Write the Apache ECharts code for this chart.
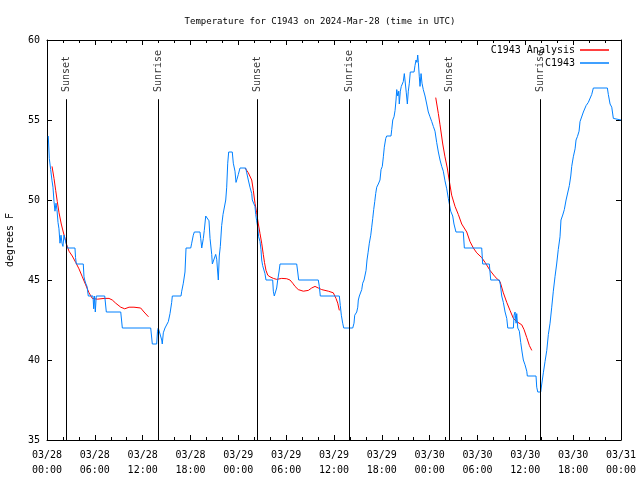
<!DOCTYPE html>
<html>
<head>
<meta charset="utf-8">
<script src="https://cdn.jsdelivr.net/npm/echarts@6/dist/echarts.min.js"></script>
<style>html,body{margin:0;padding:0;background:#fff;}#c{width:640px;height:480px;}</style>
</head>
<body>
<div id="c"></div>
<script>
// Hours since 2024-03-28 00:00 UTC
var obsHours = [0.16,0.29,0.46,0.63,0.75,0.88,1.0,1.13,1.25,1.38,1.5,1.63,1.76,1.88,2.0,2.13,2.38,2.55,3.51,3.58,3.68,4.55,4.64,4.73,4.85,5.02,5.18,5.77,5.86,5.96,6.06,6.18,7.24,7.44,9.25,9.45,13.01,13.21,13.76,13.86,13.96,14.18,14.39,14.46,14.59,14.8,15.02,15.22,15.43,15.64,15.72,16.81,16.9,17.1,17.31,17.44,18.03,18.15,18.35,18.48,19.19,19.28,19.41,19.61,19.73,19.91,20.07,20.32,20.45,20.66,20.74,20.99,21.16,21.29,21.41,21.49,21.61,21.74,21.91,22.08,22.33,22.42,22.54,22.67,22.79,23.24,23.37,23.58,23.71,23.83,24.0,24.21,24.93,25.05,25.25,25.46,25.68,25.75,26.0,26.09,26.18,26.3,26.43,26.55,26.72,26.84,26.93,27.05,27.22,27.34,27.47,28.31,28.39,28.51,28.72,28.81,28.94,29.1,29.23,31.32,31.45,31.57,34.03,34.16,34.28,36.67,36.79,36.92,37.09,37.22,38.35,38.51,38.6,38.64,38.85,38.98,39.05,39.18,39.35,39.48,39.6,39.77,39.93,40.02,40.14,40.27,40.43,40.61,40.73,40.86,40.98,41.11,41.23,41.36,41.56,41.77,41.9,42.06,42.19,42.31,42.49,42.61,43.15,43.24,43.37,43.53,43.66,43.78,43.87,44.0,44.12,44.19,44.32,44.44,44.57,44.69,44.82,44.95,45.07,45.2,45.32,45.45,45.57,46.04,46.16,46.29,46.41,46.5,46.58,46.7,46.79,46.92,47.04,47.2,47.42,47.63,47.83,48.04,48.26,48.46,48.67,48.88,49.09,49.3,49.51,49.71,49.92,50.14,50.34,50.64,50.89,51.05,51.3,52.22,52.35,54.53,54.65,55.48,55.66,56.74,56.87,57.04,57.24,57.46,57.67,57.8,58.5,58.59,58.71,58.84,58.92,59.05,59.25,59.42,59.59,59.75,59.96,60.18,60.25,61.34,61.43,61.56,61.93,62.06,62.26,62.47,62.69,62.89,63.1,63.31,63.51,63.72,63.93,64.13,64.35,64.47,64.69,64.89,65.11,65.32,65.52,65.7,65.82,66.02,66.24,66.36,66.53,66.74,66.86,67.08,67.28,67.62,67.9,68.33,68.53,70.29,70.41,70.63,70.84,71.04,71.12,72.0];
var obsTempF = [54.0,52.6,51.9,51.2,50.8,49.9,49.3,49.8,49.4,48.6,48.2,47.3,47.8,47.3,47.1,47.8,47.7,47.0,47.0,46.4,46.0,46.0,45.2,45.0,44.8,44.6,44.0,44.0,43.2,44.0,43.0,44.0,44.0,43.0,43.0,42.0,42.0,41.0,41.0,41.8,42.0,42.0,41.25,41.0,41.7,42.0,42.1,42.4,42.9,43.6,44.0,44.0,44.3,44.8,45.5,47.0,47.0,47.3,47.8,48.0,48.0,47.6,47.0,47.6,48.1,49.0,49.0,48.7,47.6,46.6,46.0,46.0,46.6,46.3,45.5,45.0,46.5,47.1,48.4,49.1,49.1,50.0,50.8,52.3,53.0,53.0,52.3,51.8,51.1,51.3,51.6,52.0,52.0,51.7,51.25,50.8,50.4,50.0,50.0,49.6,49.1,48.7,48.3,47.7,47.4,46.9,46.25,45.9,45.8,45.4,45.0,45.0,44.3,44.0,44.0,44.5,45.0,45.5,46.0,46.0,45.5,45.0,45.0,44.6,44.0,44.0,43.4,42.8,42.3,42.0,42.0,42.3,42.8,42.9,43.0,43.3,43.75,44.0,44.0,44.4,44.8,45.0,45.0,45.6,46.25,46.7,47.3,47.8,48.3,48.85,49.4,49.9,50.4,50.8,51.0,51.25,51.9,52.1,52.7,53.3,53.85,54.0,54.0,54.4,55.0,55.2,55.6,56.25,56.9,56.5,56.8,56.0,56.8,57.1,57.1,57.4,57.9,58.0,56.7,56.0,56.8,57.3,58.0,58.0,58.4,58.75,58.6,59.06,58.6,57.7,57.1,57.9,57.3,56.9,56.5,56.0,55.5,55.2,54.9,54.6,54.3,53.6,53.0,52.5,52.1,51.8,51.2,50.7,50.1,49.3,49.0,48.5,48.0,48.0,47.0,47.0,46.0,46.0,45.0,45.0,44.7,44.0,43.6,43.0,42.6,42.0,42.0,42.8,43.0,42.3,42.9,42.0,41.8,41.1,40.5,40.0,39.7,39.3,39.0,39.0,38.3,38.0,38.0,38.5,39.2,39.9,40.6,41.6,42.3,43.3,44.3,45.2,46.0,46.9,47.7,48.75,49.06,49.4,50.0,50.1,50.9,51.5,52.1,52.7,53.2,53.75,53.96,54.3,54.9,55.0,55.5,55.9,56.1,56.6,57.0,57.0,56.6,56.0,55.8,55.1,55.0,55.0];

var anaHoursA = [0.63,0.88,1.09,1.29,1.51,1.79,2.04,2.26,2.47,2.76,3.17,3.6,4.01,4.43,4.85,5.27,5.68,6.31,7.15,7.78,8.19,8.62,9.25,9.75,10.29,10.91,11.75,12.17,12.73];
var anaTempA  = [52.1,51.35,50.6,49.9,49.2,48.5,48.0,47.6,47.2,46.8,46.5,46.1,45.7,45.2,44.7,44.2,43.85,43.8,43.85,43.85,43.75,43.55,43.3,43.2,43.3,43.3,43.25,43.0,42.7];
var anaHoursB = [24.84,25.25,25.68,25.88,26.09,26.3,26.51,26.72,26.93,27.13,27.28,27.47,27.69,27.97,28.39,28.81,29.44,30.07,30.48,30.82,31.11,31.52,32.15,32.78,33.2,33.62,34.03,34.46,35.29,35.91,36.25,36.47,36.67];
var anaTempB  = [52.0,51.7,51.25,50.6,49.8,49.2,48.5,47.9,47.3,46.6,46.1,45.6,45.3,45.2,45.1,45.04,45.1,45.08,45.0,44.8,44.6,44.4,44.3,44.35,44.5,44.6,44.5,44.4,44.3,44.2,43.85,43.55,43.1];
var anaHoursC = [48.76,49.09,49.3,49.64,49.92,50.21,50.46,50.76,51.18,51.59,52.02,52.65,53.06,53.48,53.9,54.53,54.95,55.57,56.2,56.83,57.24,57.67,58.08,58.5,58.92,59.55,59.84,60.18,60.51,60.81];
var anaTempC  = [56.4,55.4,54.7,53.5,52.7,52.0,51.2,50.3,49.6,49.1,48.5,48.0,47.4,47.0,46.7,46.4,46.1,45.6,45.2,44.9,44.2,43.6,43.1,42.6,42.4,42.2,41.9,41.4,40.9,40.6];

var eventHours = [2.42,13.96,26.38,37.92,50.43,61.88];
var eventNames = ["Sunset","Sunrise","Sunset","Sunrise","Sunset","Sunrise"];
var eventLineTop = 56.3;
var eventLabelBase = 56.75;

var yTicks = [35,40,45,50,55,60];

function zip(a,b){var r=[];for(var i=0;i<a.length;i++)r.push([a[i],b[i]]);return r;}
function pad(n){return (n<10?'0':'')+n;}

var FONT = 'DejaVu Sans Mono';
var chart = echarts.init(document.getElementById('c'), null, {renderer:'canvas'});

var axisCommon = {
  axisLine:{show:true,onZero:false,lineStyle:{color:'#000',width:1}},
  splitLine:{show:false}
};

var eventLines = eventHours.map(function(h){return [{coord:[h,eventLineTop]},{coord:[h,35]}];});
var eventLabels = eventHours.map(function(h,i){return {value:[h,eventLabelBase], name:eventNames[i]};});

var option = {
  animation:false,
  backgroundColor:'#fff',
  title:{
    text:'Temperature for C1943 on 2024-Mar-28 (time in UTC)',
    left:'center', top:12,
    textStyle:{fontFamily:FONT,fontSize:9,fontWeight:'normal',color:'#000'}
  },
  legend:{
    data:['C1943 Analysis','C1943'],
    orient:'vertical', right:26, top:39, align:'right',
    icon:'rect', itemWidth:29, itemHeight:1.5, itemGap:1,
    textStyle:{fontFamily:FONT,fontSize:10,color:'#000',lineHeight:12}
  },
  grid:{left:47,right:19,top:40,bottom:40,containLabel:false,outerBoundsMode:'none'},
  xAxis:[
    Object.assign({}, axisCommon, {
      type:'value', position:'bottom', min:0, max:72, interval:6,
      axisTick:{show:true,inside:true,length:5,lineStyle:{color:'#000'}},
      minorTick:{show:true,splitNumber:3,length:3,lineStyle:{color:'#000'}},
      axisLabel:{margin:8,fontFamily:FONT,fontSize:10,color:'#000',lineHeight:15,
        formatter:function(v){var d=28+Math.floor(v/24);var hh=v%24;return '03/'+pad(d)+'\n'+pad(hh)+':00';}}
    }),
    Object.assign({}, axisCommon, {
      type:'value', position:'top', min:0, max:72, interval:6,
      axisTick:{show:true,inside:true,length:5,lineStyle:{color:'#000'}},
      minorTick:{show:true,splitNumber:3,length:3,lineStyle:{color:'#000'}},
      axisLabel:{show:false}
    })
  ],
  yAxis:[
    Object.assign({}, axisCommon, {
      type:'value', position:'left', min:yTicks[0], max:yTicks[yTicks.length-1], interval:5,
      name:'degrees F', nameLocation:'middle', nameGap:32, nameRotate:90,
      nameTextStyle:{fontFamily:FONT,fontSize:10,color:'#000'},
      axisTick:{show:true,inside:true,length:5,lineStyle:{color:'#000'}},
      axisLabel:{margin:7,fontFamily:FONT,fontSize:10,color:'#000'}
    }),
    Object.assign({}, axisCommon, {
      type:'value', position:'right', min:yTicks[0], max:yTicks[yTicks.length-1], interval:5,
      axisTick:{show:true,inside:true,length:5,lineStyle:{color:'#000'}},
      axisLabel:{show:false}
    })
  ],
  series:[
    {
      name:'events', type:'scatter', symbol:'circle', symbolSize:1, silent:true,
      itemStyle:{color:'rgba(0,0,0,0)'},
      data:eventLabels,
      label:{show:true, position:'inside', rotate:90, align:'left', verticalAlign:'middle',
        offset:[1,0],
        formatter:function(p){return p.name;},
        fontFamily:FONT,fontSize:10,color:'#000'},
      labelLayout:{hideOverlap:false},
      markLine:{silent:true, symbol:['none','none'], animation:false,
        lineStyle:{color:'#000',width:1,type:'solid'},
        label:{show:false}, emphasis:{disabled:true},
        data:eventLines},
      z:1
    },
    {name:'C1943 Analysis', type:'line', data:zip(anaHoursA,anaTempA), showSymbol:false, symbol:'none',
      lineStyle:{color:'#ff0000',width:1}, itemStyle:{color:'#ff0000'}, z:2},
    {name:'C1943 Analysis', type:'line', data:zip(anaHoursB,anaTempB), showSymbol:false, symbol:'none',
      lineStyle:{color:'#ff0000',width:1}, itemStyle:{color:'#ff0000'}, z:2},
    {name:'C1943 Analysis', type:'line', data:zip(anaHoursC,anaTempC), showSymbol:false, symbol:'none',
      lineStyle:{color:'#ff0000',width:1}, itemStyle:{color:'#ff0000'}, z:2},
    {name:'C1943', type:'line', data:zip(obsHours,obsTempF), showSymbol:false, symbol:'none',
      lineStyle:{color:'#0080ff',width:1}, itemStyle:{color:'#0080ff'}, z:3}
  ]
};
chart.setOption(option);
</script>
</body>
</html>
